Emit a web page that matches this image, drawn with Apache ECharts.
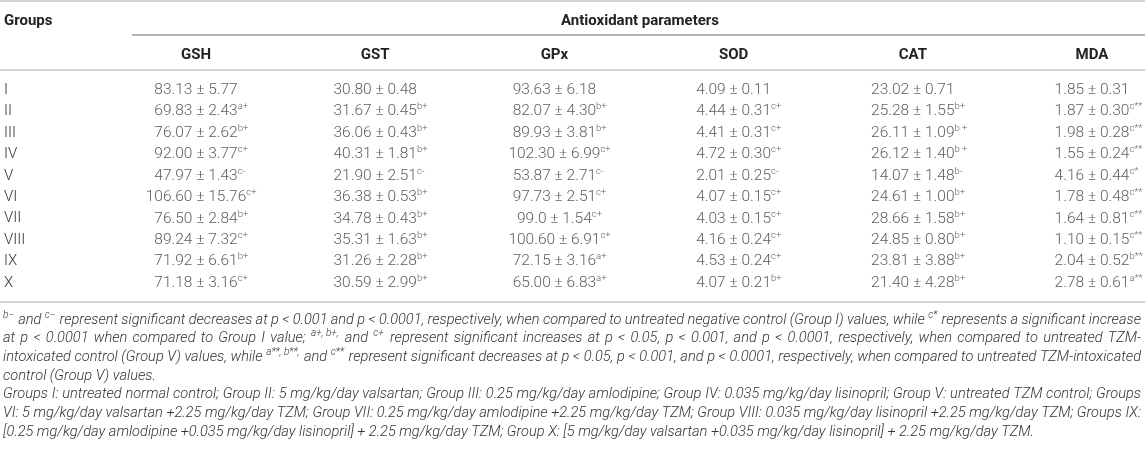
<!DOCTYPE html>
<html>
<head>
<meta charset="utf-8">
<script src="https://cdn.jsdelivr.net/npm/echarts@6/dist/echarts.min.js"></script>
<style>
  html, body { margin: 0; padding: 0; background: #fff; }
  #main { width: 1145px; height: 449px; }
</style>
</head>
<body>
<div id="main"></div>
<script>
const groups = ['I', 'II', 'III', 'IV', 'V', 'VI', 'VII', 'VIII', 'IX', 'X']
const params = ['GSH', 'GST', 'GPx', 'SOD', 'CAT', 'MDA']

// mean, sd and significance mark per parameter (rows I..X)
const gshMean = ['83.13', '69.83', '76.07', '92.00', '47.97', '106.60', '76.50', '89.24', '71.92', '71.18']
const gshSd = ['5.77', '2.43', '2.62', '3.77', '1.43', '15.76', '2.84', '7.32', '6.61', '3.16']
const gshSig = ['', 'a+', 'b+', 'c+', 'c-', 'c+', 'b+', 'c+', 'b+', 'c+']

const gstMean = ['30.80', '31.67', '36.06', '40.31', '21.90', '36.38', '34.78', '35.31', '31.26', '30.59']
const gstSd = ['0.48', '0.45', '0.43', '1.81', '2.51', '0.53', '0.43', '1.63', '2.28', '2.99']
const gstSig = ['', 'b+', 'b+', 'b+', 'c-', 'b+', 'b+', 'b+', 'b+', 'b+']

const gpxMean = ['93.63', '82.07', '89.93', '102.30', '53.87', '97.73', '99.0', '100.60', '72.15', '65.00']
const gpxSd = ['6.18', '4.30', '3.81', '6.99', '2.71', '2.51', '1.54', '6.91', '3.16', '6.83']
const gpxSig = ['', 'b+', 'b+', 'c+', 'c-', 'c+', 'c+', 'c+', 'a+', 'a+']

const sodMean = ['4.09', '4.44', '4.41', '4.72', '2.01', '4.07', '4.03', '4.16', '4.53', '4.07']
const sodSd = ['0.11', '0.31', '0.31', '0.30', '0.25', '0.15', '0.15', '0.24', '0.24', '0.21']
const sodSig = ['', 'c+', 'c+', 'c+', 'c-', 'c+', 'c+', 'c+', 'c+', 'b+']

const catMean = ['23.02', '25.28', '26.11', '26.12', '14.07', '24.61', '28.66', '24.85', '23.81', '21.40']
const catSd = ['0.71', '1.55', '1.09', '1.40', '1.48', '1.00', '1.58', '0.80', '3.88', '4.28']
const catSig = ['', 'b+', 'b +', 'b +', 'b-', 'b+', 'b+', 'b+', 'b+', 'b+']

const mdaMean = ['1.85', '1.87', '1.98', '1.55', '4.16', '1.78', '1.64', '1.10', '2.04', '2.78']
const mdaSd = ['0.31', '0.30', '0.28', '0.24', '0.44', '0.48', '0.81', '0.15', '0.52', '0.61']
const mdaSig = ['', 'c**', 'c**', 'c**', 'c*', 'c**', 'c**', 'c**', 'b**', 'a**']

// footnote lines, {s|..} marks superscript; true = justified line
const notes = [
  ['{s|b−} and {s|c−} represent significant decreases at p < 0.001 and p < 0.0001, respectively, when compared to untreated negative control (Group I) values, while {s|c*} represents a significant increase', true],
  ['at p < 0.0001 when compared to Group I value; {s|a+,\u00a0b+,} and {s|c+} represent significant increases at p < 0.05, p < 0.001, and p < 0.0001, respectively, when compared to untreated TZM-', true],
  ['intoxicated control (Group V) values, while {s|a**,\u00a0b**,} and {s|c**} represent significant decreases at p < 0.05, p < 0.001, and p < 0.0001, respectively, when compared to untreated TZM-intoxicated', true],
  ['control (Group V) values.', false],
  ['Groups I: untreated normal control; Group II: 5 mg/kg/day valsartan; Group III: 0.25 mg/kg/day amlodipine; Group IV: 0.035 mg/kg/day lisinopril; Group V: untreated TZM control; Groups', true],
  ['VI: 5 mg/kg/day valsartan +2.25 mg/kg/day TZM; Group VII: 0.25 mg/kg/day amlodipine +2.25 mg/kg/day TZM; Group VIII: 0.035 mg/kg/day lisinopril +2.25 mg/kg/day TZM; Groups IX:', true],
  ['[0.25 mg/kg/day amlodipine +0.035 mg/kg/day lisinopril] + 2.25 mg/kg/day TZM; Group X: [5 mg/kg/day valsartan +0.035 mg/kg/day lisinopril] + 2.25 mg/kg/day TZM.', false]
]

const FONT = 'Roboto'
const textColor = '#333'
const ruleColor = '#d4d4d4'

const means = [gshMean, gstMean, gpxMean, sodMean, catMean, mdaMean]
const sds = [gshSd, gstSd, gpxSd, sodSd, catSd, mdaSd]
const sigs = [gshSig, gstSig, gpxSig, sodSig, catSig, mdaSig]

const cells = []
params.forEach((p, c) => {
  groups.forEach((g, r) => {
    cells.push({ value: [c, r], mean: means[c][r], sd: sds[c][r], sig: sigs[c][r] })
  })
})

// justify footnotes word by word
const measureCtx = document.createElement('canvas').getContext('2d')
const noteFont = `italic 300 14.6px ${FONT}`
const supFont = `italic 300 10px ${FONT}`
const measure = (txt, font) => {
  measureCtx.font = font
  return measureCtx.measureText(txt).width
}

const buildNotes = () => {
  const els = []
  const left = 3, right = 1141
  notes.forEach(([line, justify], i) => {
    const y = 320 + i * 18.7
    const words = line.split(' ').map(w => {
      const segs = []
      w.split(/(\{s\|[^}]*\})/).forEach(s => {
        if (!s) return
        const m = s.match(/^\{s\|([^}]*)\}$/)
        if (m) segs.push({ text: m[1], sup: true, w: measure(m[1], supFont) + 1 })
        else segs.push({ text: s, sup: false, w: measure(s, noteFont) })
      })
      return { segs, w: segs.reduce((a, b) => a + b.w, 0) }
    })
    const total = words.reduce((a, b) => a + b.w, 0)
    const space = measure(' ', noteFont)
    let gap = justify ? (right - left - total) / (words.length - 1) : space
    if (gap < 2) gap = 2
    let x = left
    words.forEach(wd => {
      wd.segs.forEach(s => {
        els.push({
          type: 'text', x: x, y: s.sup ? y - 5 : y, silent: true,
          style: { text: s.text, font: s.sup ? supFont : noteFont, fill: textColor, verticalAlign: 'middle' }
        })
        x += s.w
      })
      x += gap
    })
  })
  return els
}

const chart = echarts.init(document.getElementById('main'))

const option = {
  animation: false,
  backgroundColor: '#fff',
  grid: { left: 196, right: 53, top: 90, bottom: 166 },
  xAxis: {
    type: 'category',
    data: params,
    position: 'top',
    boundaryGap: false,
    axisLine: { show: false },
    axisTick: { show: false },
    splitLine: { show: false },
    axisLabel: { interval: 0, margin: 27, fontFamily: FONT, fontWeight: 'bold', fontSize: 15, color: '#222' }
  },
  yAxis: {
    type: 'category',
    data: groups,
    inverse: true,
    boundaryGap: false,
    axisLine: { show: false },
    axisTick: { show: false },
    splitLine: { show: false },
    axisLabel: { interval: 0, align: 'left', margin: 192, fontFamily: FONT, fontWeight: 300, fontSize: 15, color: textColor }
  },
  series: [{
    type: 'scatter',
    symbolSize: 0,
    data: cells,
    label: {
      show: true,
      position: 'inside',
      formatter: p => {
        const d = p.data
        const sig = d.sig ? `{s|${d.sig}}` : ''
        const pad = d.sig ? `{h|${d.sig}}` : ''
        return `${pad}{v|${d.mean} ± ${d.sd}}${sig}`
      },
      rich: {
        v: { fontFamily: FONT, fontWeight: 300, fontSize: 15.5, color: textColor, lineHeight: 19 },
        s: { fontFamily: FONT, fontWeight: 300, fontSize: 9.5, color: textColor, verticalAlign: 'top', lineHeight: 10 },
        h: { fontFamily: FONT, fontWeight: 300, fontSize: 9.5, color: 'rgba(0,0,0,0)', lineHeight: 10 }
      }
    }
  }],
  graphic: [
    { type: 'line', silent: true, shape: { x1: 0, y1: 1, x2: 1145, y2: 1 }, style: { stroke: ruleColor, lineWidth: 2 } },
    { type: 'text', silent: true, x: 4, y: 21, style: { text: 'Groups', font: `bold 15px ${FONT}`, fill: '#222', verticalAlign: 'middle' } },
    { type: 'text', silent: true, x: 640, y: 21, style: { text: 'Antioxidant parameters', font: `bold 15px ${FONT}`, fill: '#222', align: 'center', verticalAlign: 'middle' } },
    { type: 'line', silent: true, shape: { x1: 132, y1: 35, x2: 1145, y2: 35 }, style: { stroke: '#666', lineWidth: 1 } },
    { type: 'line', silent: true, shape: { x1: 0, y1: 70, x2: 1145, y2: 70 }, style: { stroke: ruleColor, lineWidth: 2 } },
    { type: 'line', silent: true, shape: { x1: 0, y1: 302, x2: 1145, y2: 302 }, style: { stroke: ruleColor, lineWidth: 2 } }
  ].concat(buildNotes())
}

chart.setOption(option)
</script>
</body>
</html>
